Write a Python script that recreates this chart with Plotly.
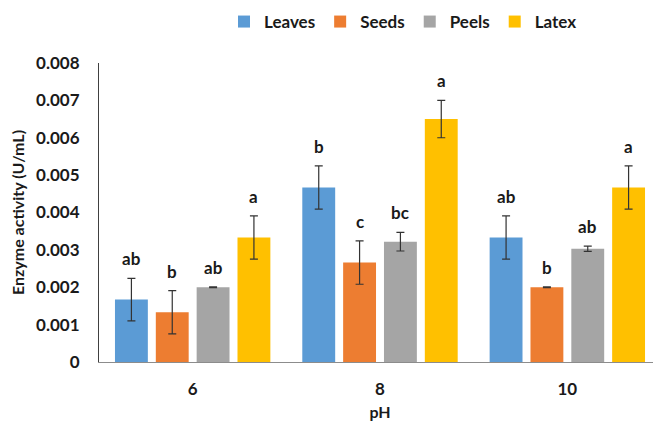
import plotly.graph_objects as go

categories = ["6", "8", "10"]
series_names = ["Leaves", "Seeds", "Peels", "Latex"]
leaves = [0.00167, 0.00467, 0.00333]
seeds = [0.00133, 0.00266, 0.00200]
peels = [0.00200, 0.00322, 0.00303]
latex = [0.00333, 0.00650, 0.00467]
leaves_err = [0.00057, 0.00058, 0.00058]
seeds_err = [0.00058, 0.00058, 0.00001]
peels_err = [0.00001, 0.00025, 0.00007]
latex_err = [0.00058, 0.00050, 0.00058]
leaves_letters = ["ab", "b", "ab"]
seeds_letters = ["b", "c", "b"]
peels_letters = ["ab", "bc", "ab"]
latex_letters = ["a", "a", "a"]
ytick_vals = [0, 0.001, 0.002, 0.003, 0.004, 0.005, 0.006, 0.007, 0.008]
ytick_text = ["0", "0.001", "0.002", "0.003", "0.004", "0.005", "0.006", "0.007", "0.008"]

colors = ["#5B9BD5", "#ED7D31", "#A5A5A5", "#FFC000"]
values = [leaves, seeds, peels, latex]
errors = [leaves_err, seeds_err, peels_err, latex_err]
letters = [leaves_letters, seeds_letters, peels_letters, latex_letters]

FONT = "Lato"
TXT = "#1a1a1a"

fig = go.Figure()
for i, name in enumerate(series_names):
    fig.add_trace(go.Bar(
        name=name,
        x=categories,
        y=values[i],
        marker=dict(color=colors[i], line=dict(width=0)),
        error_y=dict(type="data", array=errors[i], visible=True,
                     color="#333333", thickness=1.2, width=4),
        offsetgroup=str(i),
    ))

n = len(series_names)
bargap = 0.128
bargroupgap = 0.195
slot = (1 - bargap) / n
for i in range(n):
    for j, cat in enumerate(categories):
        xoff = -(1 - bargap) / 2 + slot * (i + 0.5)
        fig.add_annotation(
            x=j + xoff, xref="x", y=values[i][j] + errors[i][j], yref="y",
            text=letters[i][j], showarrow=False,
            yanchor="bottom", yshift=7,
            font=dict(family=FONT, size=17, color=TXT, weight="bold"),
        )

# page body has an 8px default margin, so figure coords = screen coords - 8
fig.update_layout(
    width=661, height=425,
    paper_bgcolor="white", plot_bgcolor="white",
    margin=dict(l=91, r=8, t=55, b=71, autoexpand=False),
    barmode="group", bargap=bargap, bargroupgap=bargroupgap,
    font=dict(family=FONT, color=TXT),
    legend=dict(orientation="h", x=395 / 661, xref="container", xanchor="center",
                y=1 - 14 / 425, yref="container", yanchor="middle",
                font=dict(family=FONT, size=17, color=TXT, weight="bold"),
                itemwidth=30, traceorder="normal", tracegroupgap=0),
    showlegend=True,
)
fig.update_xaxes(
    type="category", categoryorder="array", categoryarray=categories,
    range=[-0.5, 2.5], automargin=False,
    showline=True, linecolor="#8c8c8c", linewidth=1,
    showgrid=False, ticks="",
    tickfont=dict(family=FONT, size=17, color=TXT, weight="bold"),
    ticklabelstandoff=12,
    title=dict(text="pH", font=dict(family=FONT, size=16, color=TXT, weight="bold"), standoff=8),
)
fig.update_yaxes(
    range=[0, 0.008], automargin=False,
    tickvals=ytick_vals, ticktext=ytick_text,
    showline=True, linecolor="#404040", linewidth=1,
    showgrid=False, zeroline=False, ticks="",
    tickfont=dict(family=FONT, size=17, color=TXT, weight="bold"),
    ticklabelstandoff=15,
    title=dict(text="Enzyme activity (U/mL)", font=dict(family=FONT, size=16, color=TXT, weight="bold"), standoff=8),
)

fig.write_html("out.html")
